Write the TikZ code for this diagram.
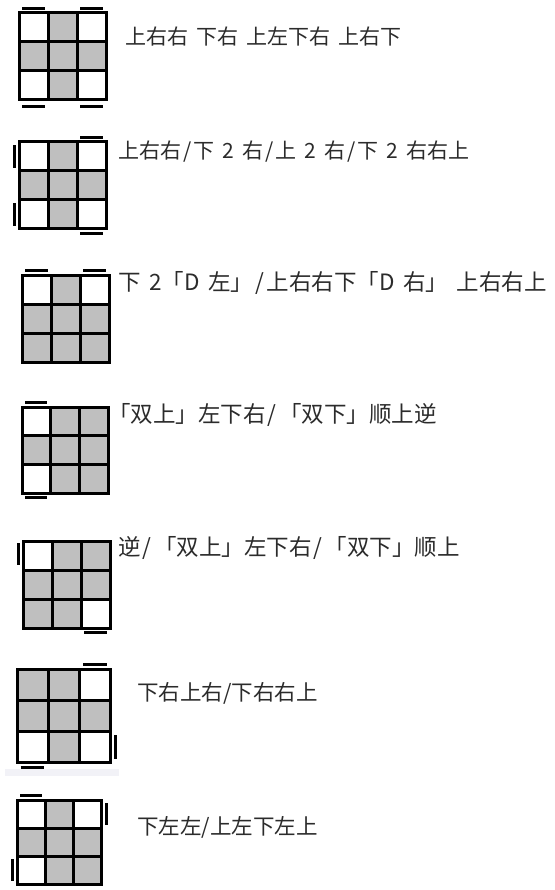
\documentclass[tikz,border=0pt]{standalone}
\usepackage{fontspec}
\setmainfont[WordSpace=1.7]{Noto Sans CJK SC}
\usetikzlibrary{positioning}
\definecolor{gris}{rgb}{0.75, 0.75, 0.75}
\definecolor{texte}{rgb}{0.17, 0.17, 0.17}
\definecolor{bande}{rgb}{0.95, 0.95, 0.97}
\newcommand{\obl}{\hspace{0.1em}/\hspace{0.1em}}

\begin{document}
\begin{tikzpicture}[x=1pt, y=-1pt,
  every node/.style={font=\fontsize{21.5}{25}\selectfont, text=texte, inner sep=0pt, anchor=west},
  grille/.style={line width=3pt, line cap=rect},
  barre/.style={line width=3pt}]
  \useasboundingbox (0, 0) rectangle (554, 890);

  % grille 1
  \begin{scope}[shift={(19, 13)}, scale=29]
    \foreach \c/\r in {1/0, 0/1, 1/1, 2/1, 1/2}
      \fill[gris] (\c, \r) rectangle +(1, 1);
    \foreach \i in {1, 2} {
      \draw[grille] (\i, 0) -- (\i, 3);
      \draw[grille] (0, \i) -- (3, \i);
    }
    \draw[grille] (0, 0) rectangle (3, 3);
    \draw[barre] (0.12, -0.17) -- +(0.76, 0);
    \draw[barre] (2.12, -0.17) -- +(0.76, 0);
    \draw[barre] (0.12, 3.22) -- +(0.76, 0);
    \draw[barre] (2.12, 3.22) -- +(0.76, 0);
  \end{scope}
  \node[font=\fontsize{21}{25}\selectfont] (t1) at (125, 37) {上右右 下右 上左下右 上右下};

  % grille 2
  \begin{scope}[shift={(19, 142)}, scale=29]
    \foreach \c/\r in {1/0, 0/1, 1/1, 2/1, 1/2}
      \fill[gris] (\c, \r) rectangle +(1, 1);
    \foreach \i in {1, 2} {
      \draw[grille] (\i, 0) -- (\i, 3);
      \draw[grille] (0, \i) -- (3, \i);
    }
    \draw[grille] (0, 0) rectangle (3, 3);
    \draw[barre] (2.12, -0.17) -- +(0.76, 0);
    \draw[barre] (-0.15, 0.12) -- +(0, 0.76);
    \draw[barre] (-0.15, 2.12) -- +(0, 0.76);
    \draw[barre] (2.12, 3.17) -- +(0.76, 0);
  \end{scope}
  \node[font=\fontsize{21}{25}\selectfont] (t2) at (118, 152) {上右右\obl 下 2 右\obl 上 2 右\obl 下 2 右右上};

  % grille 3
  \begin{scope}[shift={(22, 275)}, scale=29]
    \foreach \c/\r in {1/0, 0/1, 1/1, 2/1, 0/2, 1/2, 2/2}
      \fill[gris] (\c, \r) rectangle +(1, 1);
    \foreach \i in {1, 2} {
      \draw[grille] (\i, 0) -- (\i, 3);
      \draw[grille] (0, \i) -- (3, \i);
    }
    \draw[grille] (0, 0) rectangle (3, 3);
    \draw[barre] (0.12, -0.15) -- +(0.76, 0);
    \draw[barre] (2.12, -0.15) -- +(0.76, 0);
  \end{scope}
  \node[font=\fontsize{22.5}{25}\selectfont] (t3) at (118, 283) {下 2「D 左」\obl 上右右下「D 右」 上右右上};

  % grille 4
  \begin{scope}[shift={(22, 407)}, scale=28.8]
    \foreach \c/\r in {1/0, 2/0, 0/1, 1/1, 2/1, 1/2, 2/2}
      \fill[gris] (\c, \r) rectangle +(1, 1);
    \foreach \i in {1, 2} {
      \draw[grille] (\i, 0) -- (\i, 3);
      \draw[grille] (0, \i) -- (3, \i);
    }
    \draw[grille] (0, 0) rectangle (3, 3);
    \draw[barre] (0.12, -0.15) -- +(0.76, 0);
    \draw[barre] (0.12, 3.15) -- +(0.76, 0);
  \end{scope}
  \node[font=\fontsize{22.5}{25}\selectfont] (t4) at (108, 415) {「双上」左下右\obl「双下」顺上逆};

  % grille 5
  \begin{scope}[shift={(23, 541)}, scale=29]
    \foreach \c/\r in {1/0, 2/0, 0/1, 1/1, 2/1, 0/2, 1/2}
      \fill[gris] (\c, \r) rectangle +(1, 1);
    \foreach \i in {1, 2} {
      \draw[grille] (\i, 0) -- (\i, 3);
      \draw[grille] (0, \i) -- (3, \i);
    }
    \draw[grille] (0, 0) rectangle (3, 3);
    \draw[barre] (-0.17, 0.08) -- +(0, 0.76);
    \draw[barre] (2.12, 3.15) -- +(0.76, 0);
  \end{scope}
  \node[font=\fontsize{22.5}{25}\selectfont] (t5) at (118, 548) {逆\obl「双上」左下右\obl「双下」顺上};

  % grille 6
  \fill[bande] (5, 769) rectangle (119, 776);
  \begin{scope}[shift={(17, 669)}, scale=31.2]
    \foreach \c/\r in {0/0, 1/0, 0/1, 1/1, 2/1, 1/2}
      \fill[gris] (\c, \r) rectangle +(1, 1);
    \foreach \i in {1, 2} {
      \draw[grille] (\i, 0) -- (\i, 3);
      \draw[grille] (0, \i) -- (3, \i);
    }
    \draw[grille] (0, 0) rectangle (3, 3);
    \draw[barre] (2.12, -0.15) -- +(0.76, 0);
    \draw[barre] (3.15, 2.12) -- +(0, 0.76);
    \draw[barre] (0.12, 3.15) -- +(0.76, 0);
  \end{scope}
  \node (t6) at (137, 693) {下右上右/下右右上};

  % grille 7
  \begin{scope}[shift={(17, 800)}, scale=28]
    \foreach \c/\r in {1/0, 0/1, 1/1, 2/1, 1/2, 2/2}
      \fill[gris] (\c, \r) rectangle +(1, 1);
    \foreach \i in {1, 2} {
      \draw[grille] (\i, 0) -- (\i, 3);
      \draw[grille] (0, \i) -- (3, \i);
    }
    \draw[grille] (0, 0) rectangle (3, 3);
    \draw[barre] (0.12, -0.15) -- +(0.76, 0);
    \draw[barre] (3.18, 0.12) -- +(0, 0.76);
    \draw[barre] (-0.15, 2.12) -- +(0, 0.76);
  \end{scope}
  \node (t7) at (137, 827) {下左左/上左下左上};
\end{tikzpicture}
\end{document}
